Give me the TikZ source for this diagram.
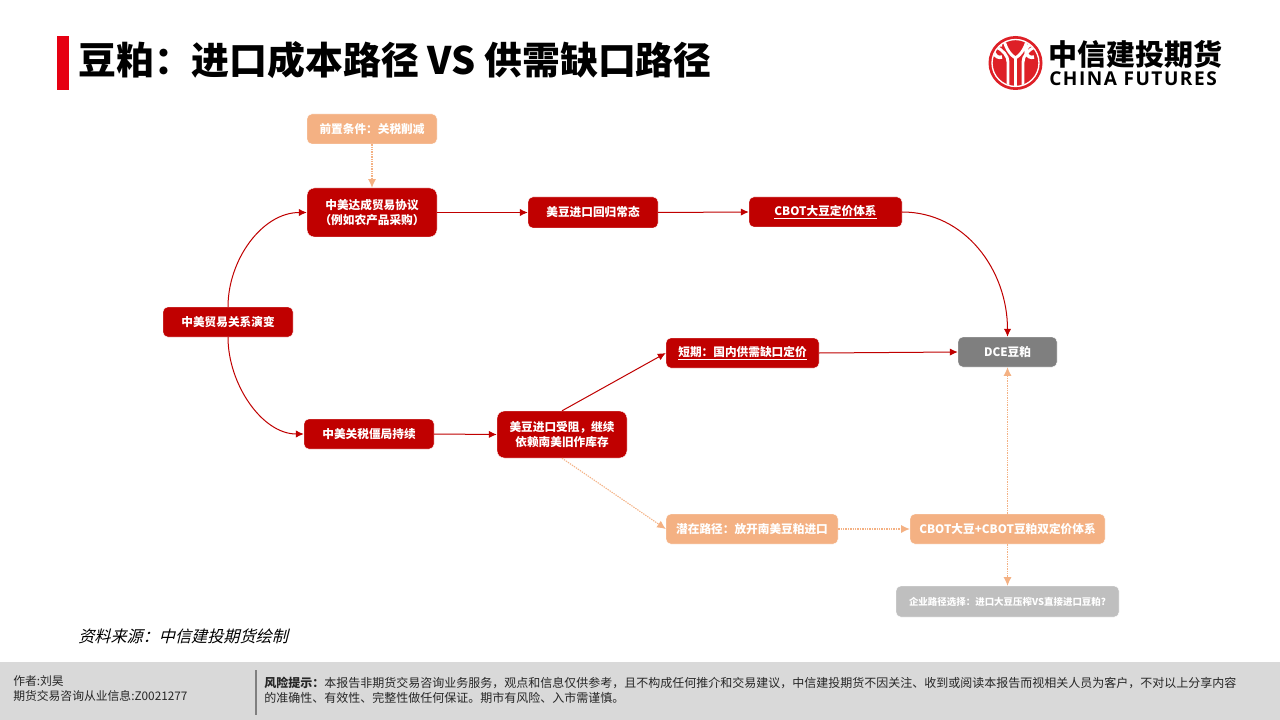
\documentclass[tikz,border=0pt]{standalone}
\usepackage{fontspec}
\setmainfont{Noto Sans CJK SC}[AutoFakeSlant=0.25]
\newfontfamily\latinsans{Open Sans}[LetterSpace=8]
\usetikzlibrary{arrows.meta,positioning}
\definecolor{dred}{HTML}{C00000}
\definecolor{peach}{HTML}{F4B183}
\definecolor{dgray}{HTML}{7F7F7F}
\definecolor{lgray}{HTML}{BFBFBF}
\definecolor{footer}{HTML}{D9D9D9}
\definecolor{barred}{HTML}{E60012}
\definecolor{logored}{HTML}{DE2027}
\tikzset{
 box/.style={rounded corners=3.5pt,draw=white,line width=0.3pt,text=white,font=\fontsize{8.75}{11}\selectfont\bfseries,align=center,inner sep=0pt},
 redbox/.style={box,fill=dred},
 tallbox/.style={redbox,rounded corners=5.5pt},
 peachbox/.style={box,fill=peach},
 graybox/.style={box,fill=dgray},
 lgraybox/.style={box,fill=lgray},
 redline/.style={draw=dred,line width=0.75pt,-{Latex[length=6pt,width=5.5pt]}},
 peachline/.style={draw=peach,line width=0.8pt,dash pattern=on 1pt off 0.8pt,-{Latex[length=6.5pt,width=6pt]}},
 logoline/.style={white,line cap=butt},
}
\newcommand{\boxat}[7]{\node[#1,minimum width=#4*0.75pt,minimum height=#5*0.75pt] (#2) at (#3) {#6};}
\begin{document}
\begin{tikzpicture}[x=0.75pt,y=-0.75pt]
\useasboundingbox (0,0) rectangle (1280,720);
\fill[white] (0,0) rectangle (1280,720);
% title
\fill[barred] (57,36) rectangle (69,90);
\node[anchor=west,inner sep=0pt,font=\fontsize{28.4}{32}\selectfont\bfseries] (title) at (78,60) {豆粕：进口成本路径 VS 供需缺口路径};
% logo
\fill[logored] (1015.5,63) circle (27);
\draw[white,line width=1pt] (1015.5,63) circle (23.5);
\begin{scope}
\clip (1015.5,63) circle (23);
\draw[logoline,line width=2.6pt] (1015.5,86) -- (1015.5,58);
\draw[logoline,line width=2.2pt] (1004,40) .. controls (1006,50) and (1012,56) .. (1015.5,58) .. controls (1019,56) and (1025,50) .. (1027,40);
\draw[logoline,line width=2.2pt] (1008,86) -- (1008,62) .. controls (1008,56) and (1003,50) .. (996,47);
\draw[logoline,line width=2.2pt] (1023,86) -- (1023,62) .. controls (1023,56) and (1028,50) .. (1035,47);
\draw[logoline,line width=2.6pt] (1002,57) arc (70:290:6 and 6.4);
\draw[logoline,line width=2.6pt] (1034,57) arc (70:290:6 and 6.4);
\end{scope}
\node[anchor=west,inner sep=0pt,font=\fontsize{21.8}{24}\selectfont\bfseries] (logocn) at (1048,54) {中信建投期货};
\node[anchor=west,inner sep=0pt,font=\latinsans\fontsize{14.3}{16}\selectfont\bfseries] (logoen) at (1049,79) {CHINA FUTURES};
% boxes
\boxat{peachbox}{pre}{372,129}{130}{30}{前置条件：关税削减}{}
\boxat{tallbox}{agree}{372,212.5}{130}{49}{中美达成贸易协议\\（例如农产品采购）}{}
\boxat{redbox}{ret}{593,212.5}{130}{31}{美豆进口回归常态}{}
\boxat{redbox}{cbot}{825.5,212}{153}{30}{\underline{CBOT大豆定价体系}}{}
\boxat{redbox}{rel}{228,322}{130}{30}{中美贸易关系演变}{}
\boxat{redbox}{tariff}{369,434}{130}{30}{中美关税僵局持续}{}
\boxat{tallbox}{block}{562,434.5}{130}{47}{美豆进口受阻，继续\\依赖南美旧作库存}{}
\boxat{redbox}{short}{742.5,353}{153}{30}{\underline{短期：国内供需缺口定价}}{}
\boxat{graybox}{dce}{1007.5,352}{99}{30}{DCE豆粕}{}
\boxat{peachbox}{pot}{752,529}{172}{30}{潜在路径：放开南美豆粕进口}{}
\boxat{peachbox}{dual}{1007.5,529}{195}{30}{CBOT大豆+CBOT豆粕双定价体系}{}
\boxat{lgraybox}{corp}{1007.5,601.5}{223}{31}{\fontsize{7.1}{9}\selectfont 企业路径选择：进口大豆压榨VS直接进口豆粕?}{}
% connectors
\draw[peachline] (pre.south) -- (agree.north);
\draw[redline] (rel.north) .. controls (228,260) and (262,212.5) .. (agree.west);
\draw[redline] (rel.south) .. controls (228,384) and (262,434) .. (tariff.west);
\draw[redline] (agree.east) -- (ret.west);
\draw[redline] (ret.east) -- (cbot.west);
\draw[redline] (cbot.east) .. controls (965,212) and (1007.5,270) .. (dce.north);
\draw[redline] (tariff.east) -- (block.west);
\draw[redline] (block.north) -- (short.west);
\draw[redline] (short.east) -- (dce.west);
\draw[peachline] (block.south) -- (pot.west);
\draw[peachline] (pot.east) -- (dual.west);
\draw[peachline] (dual.north) -- (dce.south);
\draw[peachline] (dual.south) -- (corp.north);
% source
\node[anchor=west,inner sep=0pt,font=\itshape\fontsize{12.1}{14}\selectfont] (src) at (78,636) {资料来源：中信建投期货绘制};
% footer
\fill[footer] (0,662) rectangle (1280,720);
\draw[dgray,line width=1.5pt] (255.5,670) -- (255.5,715);
\node[anchor=north west,inner sep=0pt,align=left,font=\fontsize{8.85}{11.2}\selectfont,text=black!85] (auth) at (13,675) {作者:刘昊\\期货交易咨询从业信息:Z0021277};
\node[anchor=north west,inner sep=0pt,align=left,font=\fontsize{9}{11.2}\selectfont,text=black!85] (risk) at (264,677) {\textbf{风险提示：}本报告非期货交易咨询业务服务，观点和信息仅供参考，且不构成任何推介和交易建议，中信建投期货不因关注、收到或阅读本报告而视相关人员为客户，不对以上分享内容\\的准确性、有效性、完整性做任何保证。期市有风险、入市需谨慎。};
\end{tikzpicture}
\end{document}
